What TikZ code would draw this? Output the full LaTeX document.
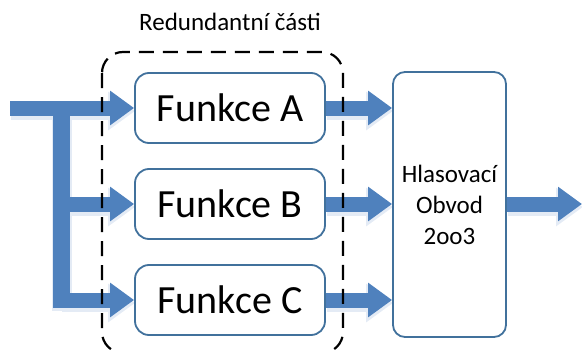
\documentclass[tikz,border=0pt]{standalone}
\usepackage{fontspec}
\setmainfont{Carlito}
\usetikzlibrary{arrows.meta}
\definecolor{arrowblue}{HTML}{4F81BD}
\definecolor{boxblue}{HTML}{41719C}
\definecolor{shadowblue}{HTML}{E4EBF5}
\pgfdeclarelayer{background}
\pgfsetlayers{background,main}
\begin{document}
\begin{tikzpicture}[x=1pt,y=-1pt,
 funcbox/.style={draw=boxblue, line width=1.8pt, rounded corners=14pt, minimum width=190pt, minimum height=70pt, fill=white, font=\fontsize{40}{48}\selectfont, inner sep=0pt},
 voterbox/.style={draw=boxblue, line width=1.8pt, rounded corners=12pt, minimum width=113pt, minimum height=265pt, fill=white, align=center, inner sep=0pt, font=\fontsize{25}{31}\selectfont},
 blockarrow/.style={draw=arrowblue, line width=15pt, -{Triangle[width=33pt,length=24pt]}},
 arrowshadow/.style={draw=shadowblue, line width=18pt, -{Triangle[width=37pt,length=27pt]}, transform canvas={shift={(1pt,-3pt)}}},
 barline/.style={draw=arrowblue, line width=17pt},
 barshadow/.style={draw=shadowblue, line width=20pt, transform canvas={shift={(1pt,-3pt)}}},
 redbox/.style={draw=black, line width=2.2pt, dash pattern=on 15pt off 9pt, rounded corners=21pt},
 titletext/.style={font=\fontsize{25}{30}\selectfont}
]
\useasboundingbox (0,0) rectangle (582,351);
\clip (0,0) rectangle (582,351);
\node[funcbox] (A) at (230,108) {Funkce A};
\node[funcbox] (B) at (230,204) {Funkce B};
\node[funcbox] (C) at (230,300) {Funkce C};
\node[voterbox] (V) at (449.5,204.5) {Hlasovací\\Obvod\\2oo3};
\node[titletext] (T) at (230,22) {Redundantní části};
\coordinate (in) at (10,108);
\coordinate (bt) at (61,108);
\coordinate (bb) at (61,308);
\coordinate (jb) at (61,204);
\coordinate (jc) at (61,300);
\coordinate (out) at (582,204);
\coordinate (dtl) at (102,52);
\coordinate (dbr) at (343,353);
\begin{pgfonlayer}{background}
 \draw[barshadow] (bt) -- (bb);
 \draw[arrowshadow] (in) -- (A.west);
 \draw[arrowshadow] (jb) -- (B.west);
 \draw[arrowshadow] (jc) -- (C.west);
 \draw[arrowshadow] (A.east) -- (A.east -| V.west);
 \draw[arrowshadow] (B.east) -- (B.east -| V.west);
 \draw[arrowshadow] (C.east) -- (C.east -| V.west);
 \draw[arrowshadow] (V.east |- out) -- (out);
 \draw[barline] (bt) -- (bb);
 \draw[blockarrow] (in) -- (A.west);
 \draw[blockarrow] (jb) -- (B.west);
 \draw[blockarrow] (jc) -- (C.west);
 \draw[blockarrow] (A.east) -- (A.east -| V.west);
 \draw[blockarrow] (B.east) -- (B.east -| V.west);
 \draw[blockarrow] (C.east) -- (C.east -| V.west);
 \draw[blockarrow] (V.east |- out) -- (out);
\end{pgfonlayer}
\draw[redbox] (dtl) rectangle (dbr);
\end{tikzpicture}
\end{document}
